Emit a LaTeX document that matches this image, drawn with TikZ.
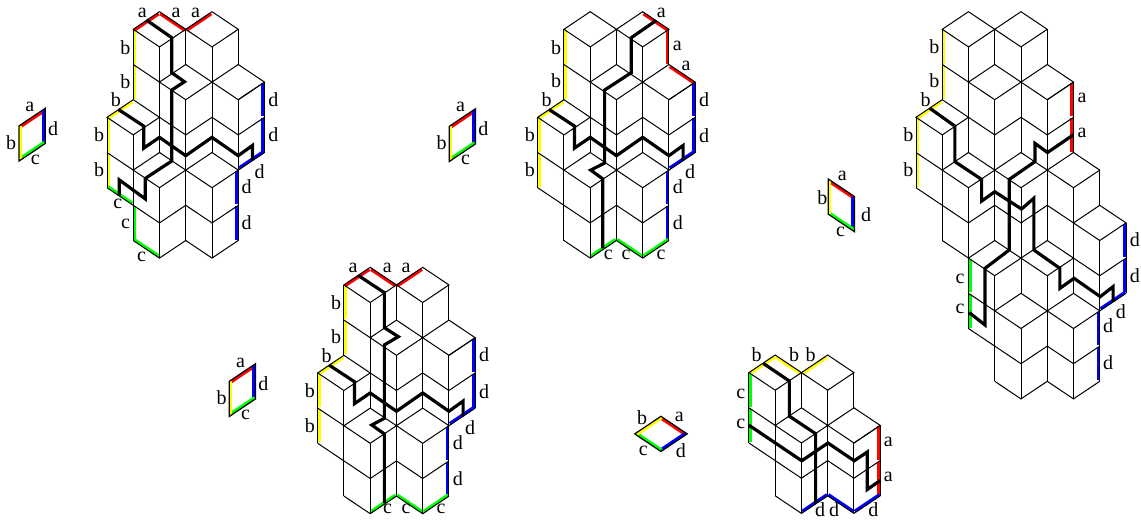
\documentclass[tikz,border=0pt]{standalone}
\usepackage{fontspec}
\setmainfont{Liberation Serif}
\usepackage{xcolor}
\usetikzlibrary{positioning}

\definecolor{rimred}{RGB}{255,0,0}
\definecolor{rimyellow}{RGB}{255,255,0}
\definecolor{rimgreen}{RGB}{0,255,0}
\definecolor{rimblue}{RGB}{0,0,255}

\tikzset{
    edge/.style={line width=.75pt, line join=miter},
    strand/.style={line width=2.4pt, line join=miter},
    rimline/.style={line width=2.4pt, shorten >=.7pt, shorten <=.7pt},
    lab/.style={inner sep=0pt, font=\fontsize{15}{16}\selectfont},
    inright/.style={xshift=1.2pt},
    inleft/.style={xshift=-1.2pt},
    indown/.style={yshift=-1.2pt},
    inup/.style={yshift=1.2pt},
    figat/.style 2 args={xshift=#1*.75pt, yshift=-#2*.75pt}
}

% coloured boundary pieces
\newcommand{\rim}[3]{\foreach \ax/\ay/\bx/\by in {#3}
    \draw[rimline, #1, #2] (\ax,\ay) -- (\bx,\by);}
% letters next to the boundary
\newcommand{\putlabels}[1]{\foreach \t/\x/\y [count=\n] in {#1}
    \node[lab] (\t\n) at (\x,\y) {\t};}
% top faces and vertical edges
\newcommand{\tops}[1]{\foreach \i/\j in {#1}
    \draw[edge] (\i,\j) -- +(-1,1) -- +(0,2) -- +(1,1) -- cycle;}
\newcommand{\verts}[1]{\foreach \i/\a/\b in {#1}
    \draw[edge] (\i,\a) -- (\i,\b);}
% small tile with its four coloured sides
\newcommand{\minitile}[4]{
    \begin{scope}
        \clip #1 -- #2 -- #3 -- #4 -- cycle;
        \draw[rimred, line width=4.6pt] #1 -- #2;
        \draw[rimblue, line width=4.6pt] #2 -- #3;
        \draw[rimgreen, line width=4.6pt] #3 -- #4;
        \draw[rimyellow, line width=4.6pt] #4 -- #1;
    \end{scope}
    \draw[line width=.9pt] #1 -- #2 -- #3 -- #4 -- cycle;
}

% the stack used three times
\newcommand{\blockA}{
    \tops{2/0,4/0,3/3,5/3,1/5,2/8,4/8}
    \verts{0/6/10,1/1/5,1/7/13,2/2/8,2/10/14,3/1/3,3/5/13,4/2/8,4/10/14,5/1/3,5/5/13,6/4/8}
    \draw[edge] (1,3) -- (2,4);
    \draw[edge] (5,5) -- (6,4);
    \draw[edge] (2,6) -- (3,7) -- (4,6) -- (5,7) -- (6,6);
    \draw[edge] (0,8) -- (1,9);
    \draw[edge] (5,9) -- (6,8);
    \draw[edge] (0,10) -- (1,11) -- (2,12) -- (3,11) -- (4,12) -- (5,11);
    \draw[edge] (1,13) -- (2,14) -- (3,13) -- (4,14) -- (5,13);
}
% the strand from b to d, same in the three copies
\newcommand{\strandbd}{
    \draw[strand] (.43,5.55) -- (1.4,6.5) -- (1.4,7.75) -- (2,7.14) -- (3,8.18)
        -- (4,7.14) -- (5,8.18) -- (5.54,7.6) -- (5.54,8.45);
}
\newcommand{\leftrim}{
    \rim{rimyellow}{inright}{1/1/1/3,1/3/1/5,0/6/0/8,0/8/0/10}
    \rim{rimyellow}{indown}{1/5/0/6}
}
\newcommand{\rightrim}{
    \rim{rimblue}{inleft}{6/4/6/6,6/6/6/8,5/9/5/11,5/11/5/13}
    \rim{rimblue}{inup}{6/8/5/9}
}

\begin{document}
\begin{tikzpicture}[x=19.6875pt, y=-13.2pt]
    \useasboundingbox (0,0) rectangle (43.467,29.545);

    % Small tiles
    \begin{scope}[figat={19}{108.3}]
        \minitile{(0,1)}{(1,0)}{(1,2)}{(0,3)}
        \putlabels{a/.41/-.08,d/1.3/1.15,b/-.3/1.93,c/.62/2.93}
    \end{scope}
    \begin{scope}[figat={449.3}{108.7}]
        \minitile{(0,1)}{(1,0)}{(1,2)}{(0,3)}
        \putlabels{a/.43/-.08,d/1.3/1.13,b/-.29/1.91,c/.62/2.91}
    \end{scope}
    \begin{scope}[figat={229.3}{363.7}]
        \minitile{(0,1)}{(1,0)}{(1,2)}{(0,3)}
        \putlabels{a/.43/-.06,d/1.3/1.13,b/-.29/1.93,c/.62/2.91}
    \end{scope}
    \begin{scope}[figat={828.3}{179}]
        \minitile{(0,0)}{(1,1)}{(1,3)}{(0,2)}
        \putlabels{a/.53/-.17,b/-.23/1.08,d/1.44/2.05,c/.47/3}
    \end{scope}
    \begin{scope}[figat={634.7}{416.3}]
        \minitile{(1,0)}{(2,1)}{(1,2)}{(0,1)}
        \putlabels{b/.28/.06,a/1.7/.06,c/.33/1.97,d/1.76/1.97}
    \end{scope}

    % Upper left stack
    \begin{scope}[figat={107}{11.7}]
        \leftrim \rightrim
        \rim{rimred}{indown}{2/0/1/1,2/0/3/1,3/1/4/0}
        \rim{rimgreen}{inup}{0/10/1/11,1/13/2/14}
        \rim{rimgreen}{inright}{1/11/1/13}
        \blockA
        \strandbd
        \draw[strand] (1.5,.47) -- (2.47,1.48) -- (2.47,3.47) -- (2.95,3.98) -- (2.47,4.45)
            -- (2.47,8.48) -- (1.46,9.47) -- (1.46,10.64) -- (.47,9.56) -- (.47,10.45);
        \putlabels{a/1.35/.06,a/2.63/.06,a/3.37/.06,
            b/.7/2.03,b/.7/4,b/.34/5.02,b/-.3/7,b/-.3/9,
            c/.41/10.93,c/.71/12.06,c/1.32/13.92,
            d/6.34/4.98,d/6.34/7,d/5.81/9.09,d/5.32/9.94,d/5.32/12}
    \end{scope}

    % Upper middle stack
    \begin{scope}[figat={537.7}{11.7}]
        \leftrim \rightrim
        \rim{rimred}{indown}{4/0/5/1,5/3/6/4}
        \rim{rimred}{inleft}{5/1/5/3}
        \rim{rimgreen}{inup}{2/14/3/13,3/13/4/14,4/14/5/13}
        \blockA
        \strandbd
        \draw[strand] (4.51,.5) -- (3.56,1.48) -- (3.56,3.47) -- (2.55,4.45) -- (2.55,8.6)
            -- (2.02,9) -- (2.48,9.5) -- (2.48,13.45);
        \putlabels{a/4.71/.09,a/5.32/1.95,a/5.65/3.07,
            b/.7/2.03,b/.7/3.94,b/.34/5,b/-.3/7,b/-.3/9,
            d/6.34/4.98,d/6.34/7.06,d/5.81/9.09,d/5.34/9.94,d/5.34/12,
            c/2.69/13.83,c/3.37/13.83,c/4.7/13.83}
    \end{scope}

    % Lower middle stack
    \begin{scope}[figat={317.7}{267.3}]
        \leftrim \rightrim
        \rim{rimred}{indown}{2/0/1/1,2/0/3/1,3/1/4/0}
        \rim{rimgreen}{inup}{2/14/3/13,3/13/4/14,4/14/5/13}
        \blockA
        \strandbd
        \draw[strand] (1.55,.47) -- (2.54,1.44) -- (2.54,3.43) -- (3.07,3.94) -- (2.54,4.41)
            -- (2.54,8.58) -- (2.06,8.96) -- (2.54,9.47) -- (2.54,13.41);
        \putlabels{a/1.35/.06,a/2.65/.06,a/3.37/.06,
            b/.7/2.03,b/.7/3.94,b/.34/5,b/-.3/7,b/-.3/9,
            d/6.34/4.98,d/6.34/7.06,d/5.81/9.09,d/5.34/9.94,d/5.34/12,
            c/2.66/13.75,c/3.37/13.75,c/4.7/13.75}
    \end{scope}

    % Tall stack on the right
    \begin{scope}[figat={916}{11.7}]
        \leftrim
        \rim{rimred}{inleft}{6/4/6/6,6/6/6/8}
        \rim{rimgreen}{inright}{2/14/2/16,2/16/2/18}
        \rim{rimblue}{inleft}{8/12/8/14,8/14/8/16,7/17/7/19,7/19/7/21}
        \rim{rimblue}{inup}{8/16/7/17}
        \tops{2/0,4/0,3/3,5/3,1/5,2/8,4/8,6/8,7/11,3/13,5/13,4/16,6/16}
        \verts{0/6/10,1/1/5,1/7/13,2/2/8,2/10/18,3/1/3,3/5/13,3/15/21,4/2/8,4/10/16,4/18/22,
            5/1/3,5/5/13,5/15/21,6/4/8,6/10/16,6/18/22,7/9/11,7/13/21,8/12/16}
        \draw[edge] (1,3) -- (2,4);
        \draw[edge] (5,5) -- (6,4);
        \draw[edge] (2,6) -- (3,7) -- (4,6) -- (5,7) -- (6,6);
        \draw[edge] (0,8) -- (1,9);
        \draw[edge] (0,10) -- (1,11) -- (2,12) -- (3,11) -- (4,12) -- (5,11) -- (6,12);
        \draw[edge] (1,13) -- (2,14);
        \draw[edge] (6,14) -- (7,15) -- (8,14);
        \draw[edge] (2,16) -- (3,17);
        \draw[edge] (7,17) -- (8,16);
        \draw[edge] (2,18) -- (3,19) -- (4,20) -- (5,19) -- (6,20) -- (7,19);
        \draw[edge] (3,21) -- (4,22) -- (5,21) -- (6,22) -- (7,21);
        \draw[strand] (.53,5.49) -- (1.48,6.5) -- (1.48,8.52) -- (2.5,9.53) -- (2.5,10.76)
            -- (3,10.23) -- (4.02,11.21) -- (4.49,10.6) -- (4.49,13.54) -- (5.48,14.58)
            -- (5.48,15.72) -- (6.02,15.15) -- (7.02,16.19) -- (7.51,15.62) -- (7.51,16.48);
        \draw[strand] (5.99,7) -- (5.01,8) -- (4.53,7.48) -- (4.53,8.52) -- (3.55,9.53)
            -- (3.55,13.54) -- (2.63,14.58) -- (2.63,17.8) -- (2.03,17.1);
        \putlabels{a/6.33/4.92,a/6.33/6.91,
            b/.7/1.99,b/.7/3.94,b/.37/5.02,b/-.29/7,b/-.29/9,
            c/1.68/15.19,c/1.68/16.91,
            d/8.34/12.97,d/8.34/15.02,d/7.8/17.05,d/7.32/17.86,d/7.32/19.94}
    \end{scope}

    % Low stack at the bottom right
    \begin{scope}[figat={722.7}{355}]
        \rim{rimyellow}{indown}{2/0/1/1,2/0/3/1,3/1/4/0}
        \rim{rimgreen}{inright}{1/1/1/3,1/3/1/5}
        \rim{rimred}{inleft}{6/4/6/6,6/6/6/8}
        \rim{rimblue}{inup}{3/9/4/8,4/8/5/9,5/9/6/8}
        \tops{2/0,4/0,3/3,5/3}
        \verts{1/1/5,2/2/8,3/1/3,3/5/9,4/2/8,5/1/3,5/5/9,6/4/8}
        \draw[edge] (1,3) -- (2,4);
        \draw[edge] (5,5) -- (6,4);
        \draw[edge] (1,5) -- (2,6) -- (3,7) -- (4,6) -- (5,7) -- (6,6);
        \draw[edge] (2,8) -- (3,9) -- (4,8) -- (5,9) -- (6,8);
        \draw[strand] (1.55,.48) -- (2.54,1.48) -- (2.54,3.48) -- (3.54,4.47) -- (3.54,8.46);
        \draw[strand] (1,3.99) -- (3.01,6.01) -- (4.01,5) -- (5.01,6.01) -- (5.51,5.51)
            -- (5.51,7.64) -- (6,7.13);
        \putlabels{b/1.29/0,b/2.72/0,b/3.35/0,
            c/.69/2.22,c/.69/3.94,
            a/6.31/4.94,a/6.31/6.94,
            d/3.71/8.76,d/4.24/8.76,d/5.74/8.76}
    \end{scope}
\end{tikzpicture}
\end{document}
